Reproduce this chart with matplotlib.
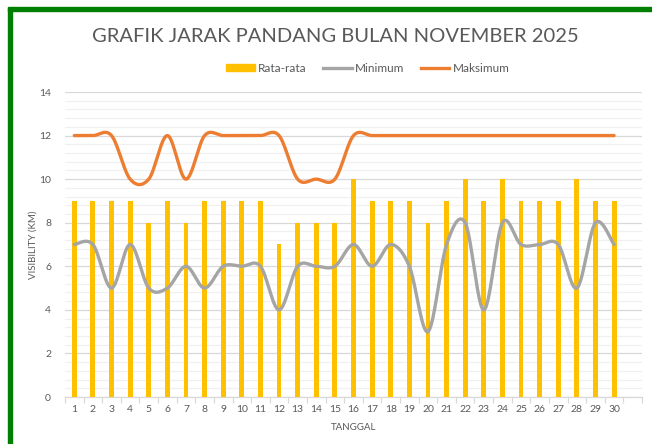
import numpy as np
import matplotlib
matplotlib.use("Agg")
import matplotlib.pyplot as plt
from matplotlib.patches import Rectangle, Patch
from matplotlib.lines import Line2D
from matplotlib.ticker import MultipleLocator, FixedLocator

# Data
tanggal = list(range(1, 31))
rata_rata = [9, 9, 9, 9, 8, 9, 8, 9, 9, 9, 9, 7, 8, 8, 8,
             10, 9, 9, 9, 8, 9, 10, 9, 10, 9, 9, 9, 10, 9, 9]
minimum = [7, 7, 5, 7, 5, 5, 6, 5, 6, 6, 6, 4, 6, 6, 6,
           7, 6, 7, 6, 3, 7, 8, 4, 8, 7, 7, 7, 5, 8, 7]
maksimum = [12, 12, 12, 10, 10, 12, 10, 12, 12, 12, 12, 12, 10, 10, 10,
            12, 12, 12, 12, 12, 12, 12, 12, 12, 12, 12, 12, 12, 12, 12]
n_slots = 31  # the sheet had one empty trailing category

TEXT = "#595959"
GRID = "#d9d9d9"
MINOR = "#f0f0f0"


def smooth(x, y, steps=30):
    """Excel-style smoothed line: cubic Bezier with Catmull-Rom control points."""
    x = np.asarray(x, float)
    y = np.asarray(y, float)
    px = np.concatenate([[x[0]], x, [x[-1]]])
    py = np.concatenate([[y[0]], y, [y[-1]]])
    t = np.linspace(0, 1, steps)[:, None]
    xs, ys = [], []
    for i in range(1, len(x)):
        p0 = np.array([px[i], py[i]])
        p3 = np.array([px[i + 1], py[i + 1]])
        c1 = p0 + (np.array([px[i + 1], py[i + 1]]) - np.array([px[i - 1], py[i - 1]])) / 6
        c2 = p3 - (np.array([px[i + 2], py[i + 2]]) - np.array([px[i], py[i]])) / 6
        b = ((1 - t) ** 3) * p0 + 3 * ((1 - t) ** 2) * t * c1 + 3 * (1 - t) * t ** 2 * c2 + t ** 3 * p3
        xs.append(b[:, 0])
        ys.append(b[:, 1])
    return np.concatenate(xs), np.concatenate(ys)


plt.rcParams["font.family"] = ["Lato", "DejaVu Sans"]

fig = plt.figure(figsize=(6.52, 4.44), dpi=100)
ax = fig.add_axes([65 / 652, 1 - 397 / 444, 577 / 652, 305 / 444])

ax.bar(tanggal, rata_rata, width=0.26, color="#FFC000", zorder=3)
mx, my = smooth(tanggal, minimum)
ax.plot(mx, my, color="#A5A5A5", lw=2.4, solid_capstyle="round", zorder=4)
xx, xy = smooth(tanggal, maksimum)
ax.plot(xx, xy, color="#ED7D31", lw=2.4, solid_capstyle="round", zorder=4)

ax.set_xlim(0.5, n_slots + 0.5)
ax.set_ylim(0, 14)
ax.yaxis.set_major_locator(MultipleLocator(2))
ax.yaxis.set_minor_locator(MultipleLocator(0.4))
ax.grid(axis="y", which="major", color=GRID, lw=0.9, zorder=0)
ax.grid(axis="y", which="minor", color=MINOR, lw=0.9, zorder=0)

ax.xaxis.set_major_locator(FixedLocator(range(1, n_slots + 1)))
ax.set_xticklabels([str(d) for d in tanggal] + [""])
ax.xaxis.set_minor_locator(FixedLocator(np.arange(0.5, n_slots + 1, 1)))
ax.tick_params(axis="x", which="major", length=0, pad=6, labelsize=7.5, labelcolor=TEXT)
ax.tick_params(axis="x", which="minor", length=4, color=GRID, width=0.9)
ax.tick_params(axis="y", which="both", length=0, pad=10, labelsize=7.5, labelcolor=TEXT)

for s in ("top", "right", "left"):
    ax.spines[s].set_visible(False)
ax.spines["bottom"].set_color(GRID)
ax.spines["bottom"].set_linewidth(0.9)

ax.set_ylabel("VISIBILITY (KM)", fontsize=7, color=TEXT, labelpad=1)
ax.set_xlabel("TANGGAL", fontsize=7, color=TEXT, labelpad=6)

fig.text(335 / 652, 1 - 37 / 444, "GRAFIK JARAK PANDANG BULAN NOVEMBER 2025",
         ha="center", va="center", fontsize=14.5, color=TEXT)

handles = [
    Patch(color="#FFC000"),
    Line2D([], [], color="#A5A5A5", lw=2.4),
    Line2D([], [], color="#ED7D31", lw=2.4),
]
fig.legend(handles, ["Rata-rata", "Minimum", "Maksimum"], loc="center",
           bbox_to_anchor=(368 / 652, 1 - 68 / 444), ncol=3, frameon=False,
           fontsize=8.5, labelcolor=TEXT, handlelength=2.4, handleheight=0.55,
           handletextpad=0.3, columnspacing=1.4)

# green frame (left and top edges visible in the crop)
fig.patches.append(Rectangle((8 / 652, 0), 4 / 652, 1 - 8 / 444,
                             transform=fig.transFigure, color="#008000", zorder=10))
fig.patches.append(Rectangle((8 / 652, 1 - 11 / 444), 1, 3.5 / 444,
                             transform=fig.transFigure, color="#008000", zorder=10))

fig.savefig("out.png", dpi=100)
